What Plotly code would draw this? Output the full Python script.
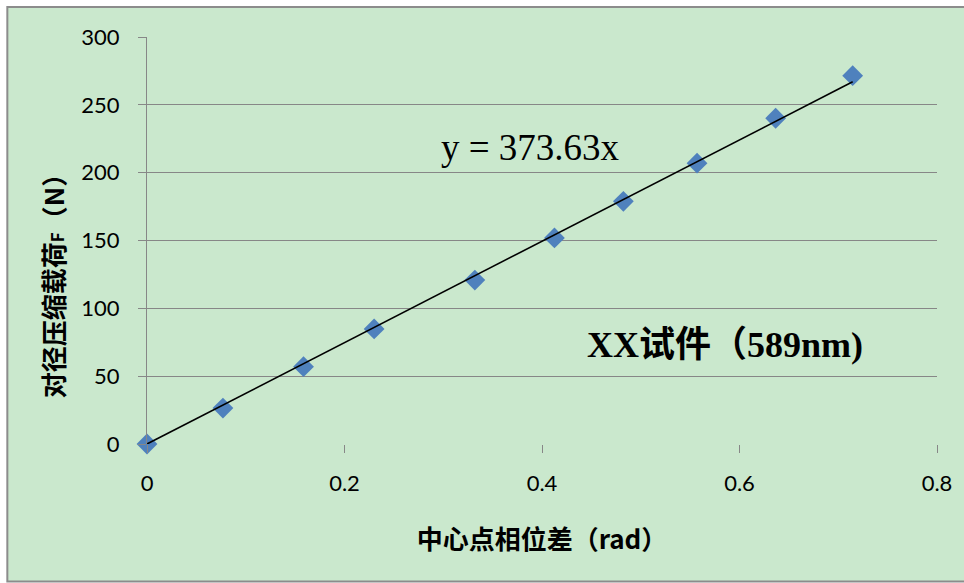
import plotly.graph_objects as go

# Data
phase_diff = [0.0, 0.0769, 0.1585, 0.230, 0.332, 0.4126, 0.4824, 0.557, 0.6366, 0.7146]
load_f = [0.0, 26.5, 57.0, 84.8, 120.8, 151.9, 178.9, 207.0, 240.1, 271.5]
slope = 373.63
x_ticks = [0, 0.2, 0.4, 0.6, 0.8]
y_ticks = [0, 50, 100, 150, 200, 250, 300]

trend_x = [0.0, max(phase_diff)]
trend_y = [slope * v for v in trend_x]

BG = "#CAE8CD"
GRID = "#878787"
TICKFONT = dict(family="Lato, Carlito, Open Sans, sans-serif", size=22, color="#000000")
CJK_BOLD = "Noto Sans CJK SC, sans-serif"

fig = go.Figure()
fig.add_trace(go.Scatter(
    x=phase_diff, y=load_f, mode="markers",
    marker=dict(symbol="diamond", size=16, color="#4F81BD", line=dict(width=0)),
    cliponaxis=False, showlegend=False,
))
fig.add_trace(go.Scatter(
    x=trend_x, y=trend_y, mode="lines",
    line=dict(color="#000000", width=1.6),
    cliponaxis=False, showlegend=False,
))

fig.update_layout(
    width=964, height=583,
    margin=dict(l=146.7, r=27.3, t=37, b=138.7),
    paper_bgcolor="#FFFFFF",
    plot_bgcolor="rgba(0,0,0,0)",
    xaxis=dict(
        range=[0, 0.8], tickvals=x_ticks, ticktext=["0", "0.2", "0.4", "0.6", "0.8"],
        showgrid=False, zeroline=False, showline=False,
        ticks="outside", ticklen=8, tickcolor=GRID, tickwidth=1.3,
        tickfont=TICKFONT, ticklabelstandoff=12,
        title=dict(text="<b>中心点相位差（rad）</b>",
                   font=dict(family=CJK_BOLD, size=26, color="#000000"), standoff=35),
        automargin=False,
    ),
    yaxis=dict(
        range=[0, 300], tickvals=y_ticks,
        showgrid=True, gridcolor=GRID, gridwidth=1.3,
        zeroline=False, showline=True, linecolor=GRID, linewidth=1.3,
        ticks="outside", ticklen=8, tickcolor=GRID, tickwidth=1.3,
        tickfont=TICKFONT, ticklabelstandoff=14,
        automargin=False,
    ),
    shapes=[
        dict(type="rect", xref="paper", yref="paper", layer="below",
             x0=-0.1768, x1=1.2, y0=-0.338, y1=1.0737,
             fillcolor=BG, line=dict(color="#8C8C8C", width=2)),
    ],
    annotations=[
        dict(x=-0.1186, y=0.403, xref="paper", yref="paper", showarrow=False,
             textangle=-90, xanchor="center", yanchor="middle",
             text="<b>对径压缩载荷<span style='font-size:17px'>F</span>（N）</b>",
             font=dict(family=CJK_BOLD, size=26, color="#000000")),
        dict(x=0.388, y=218.7, xref="x", yref="y", showarrow=False,
             text="y = 373.63x",
             font=dict(family="Times New Roman, Liberation Serif, serif", size=37, color="#000000")),
        dict(x=0.585, y=73, xref="x", yref="y", showarrow=False,
             text="<b>XX试件（589nm)</b>",
             font=dict(family="Times New Roman, Liberation Serif, Noto Sans CJK SC, serif", size=36, color="#000000")),
    ],
)

fig.write_html("out.html", config={"displayModeBar": False},
               post_script="document.body.style.margin='0';")
